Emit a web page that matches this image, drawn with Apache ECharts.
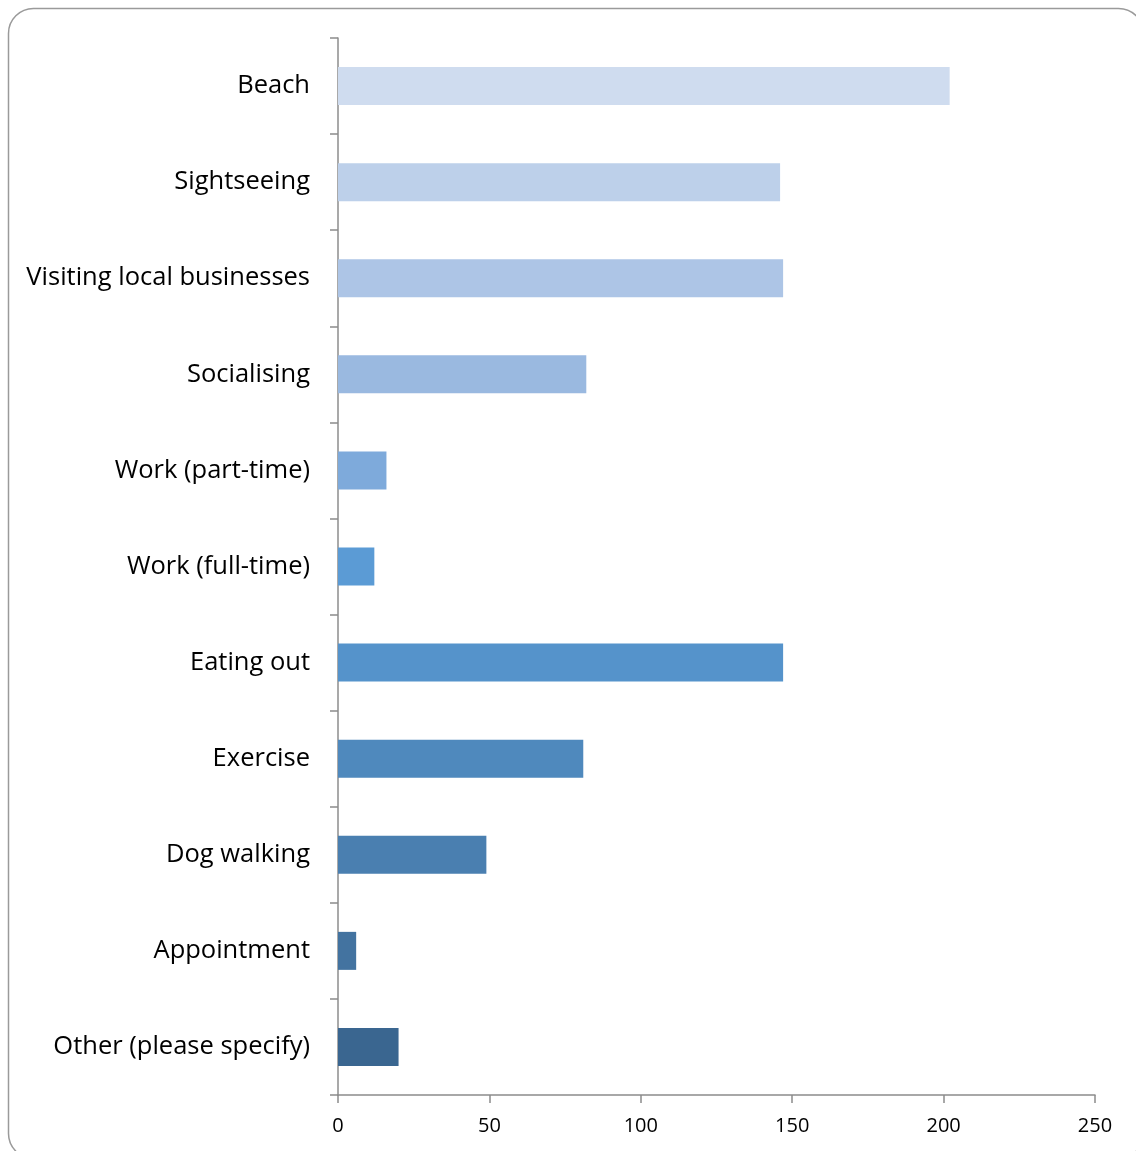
<!DOCTYPE html>
<html style="width:100%;height:100%;">
<head>
	<meta charset="UTF-8">
	<title>Activities</title>
	<script src="https://cdn.jsdelivr.net/npm/echarts@6/dist/echarts.min.js"></script>
</head>
<body style="width:100%;height:100%;margin:0;padding:0;background:#fff;">
	<div id="chart" style="width:1136px;height:1151px;"></div>
	<script>
		// data
		var categories = ['Beach', 'Sightseeing', 'Visiting local businesses', 'Socialising', 'Work (part-time)',
			'Work (full-time)', 'Eating out', 'Exercise', 'Dog walking', 'Appointment', 'Other (please specify)'];
		var values = [202, 146, 147, 82, 16, 12, 147, 81, 49, 6, 20];
		var barColors = ['#cfdcef', '#bdd0ea', '#adc5e6', '#9ab9e0', '#7eaadb', '#5b9bd5',
			'#5593cb', '#4f89bd', '#4a7fb0', '#4373a0', '#3a6690'];
		var xTicks = [0, 50, 100, 150, 200, 250];

		var font = '"Open Sans", "Noto Sans", sans-serif';
		var myChart = echarts.init(document.getElementById('chart'));
		var option = {
			animation: false,
			graphic: [{
				type: 'rect',
				shape: { x: 8.5, y: 8.5, width: 1135, height: 1150, r: 25 },
				style: { fill: 'none', stroke: '#9a9a9a', lineWidth: 1.5 },
				silent: true
			}],
			grid: { left: 338, right: 41, top: 38, bottom: 56 },
			xAxis: {
				type: 'value',
				min: xTicks[0],
				max: xTicks[xTicks.length - 1],
				interval: 50,
				splitLine: { show: false },
				axisLine: { show: true, lineStyle: { color: '#8c8c8c', width: 1.5 } },
				axisTick: { show: true, length: 8, lineStyle: { color: '#8c8c8c', width: 1.5 } },
				axisLabel: { color: '#000', fontSize: 20, fontFamily: font, margin: 21 }
			},
			yAxis: {
				type: 'category',
				data: categories,
				inverse: true,
				axisLine: { show: true, lineStyle: { color: '#8c8c8c', width: 1.5 } },
				axisTick: { show: true, length: 8, lineStyle: { color: '#8c8c8c', width: 1.5 } },
				axisLabel: { color: '#000', fontSize: 25.5, fontFamily: font, margin: 28, padding: [8, 0, 0, 0] }
			},
			series: [{
				type: 'bar',
				data: values,
				barWidth: 38,
				itemStyle: {
					color: function(params) {
						return barColors[params.dataIndex];
					}
				}
			}]
		};
		myChart.setOption(option);
	</script>
</body>
</html>
